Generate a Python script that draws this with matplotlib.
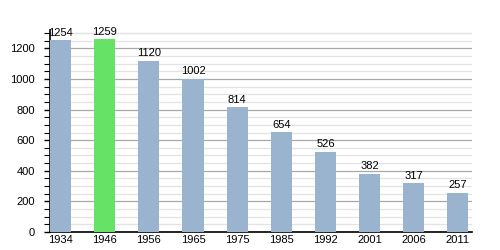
import numpy as np
import matplotlib.pyplot as plt
from matplotlib.ticker import MultipleLocator

plt.rcParams['font.family'] = ['Liberation Sans', 'DejaVu Sans']

years = ['1934', '1946', '1956', '1965', '1975', '1985', '1992', '2001', '2006', '2011']
population = [1254, 1259, 1120, 1002, 814, 654, 526, 382, 317, 257]
highlight = '1946'

blue = '#9ab3cf'
green = '#66e266'

fig = plt.figure(figsize=(5, 2.5), dpi=100)
ax = fig.add_axes([0.1, 0.072, 0.844, 0.808])

x = np.arange(len(years))
colors = [green if y == highlight else blue for y in years]
width = 0.48
ax.bar(x, population, width=width, align='edge', color=colors, zorder=3)

for xi, v in zip(x, population):
    ax.text(xi + width / 2, v + 15, str(v), ha='center', va='bottom', fontsize=8, zorder=4)

ax.set_xlim(0, len(years) - 1 + 0.56)
ax.set_ylim(0, 1320)
ax.set_xticks(x + width / 2)
ax.set_xticklabels(years, fontsize=8)
ax.yaxis.set_major_locator(MultipleLocator(200))
ax.yaxis.set_minor_locator(MultipleLocator(50))
ax.tick_params(axis='y', labelsize=8, length=4, width=1, pad=7)
ax.tick_params(axis='y', which='minor', length=4, width=0.8)
ax.tick_params(axis='x', length=0, pad=2)

ax.grid(axis='y', which='major', color='#a8a8a8', linewidth=0.9, zorder=0)
ax.grid(axis='y', which='minor', color='#e3e3e3', linewidth=0.9, zorder=0)
ax.axhline(1300, color='#e3e3e3', linewidth=0.9, zorder=0)

for s in ['top', 'right']:
    ax.spines[s].set_visible(False)
ax.spines['left'].set_linewidth(1.2)
ax.spines['bottom'].set_linewidth(1.2)

fig.savefig('out.png', dpi=100)
